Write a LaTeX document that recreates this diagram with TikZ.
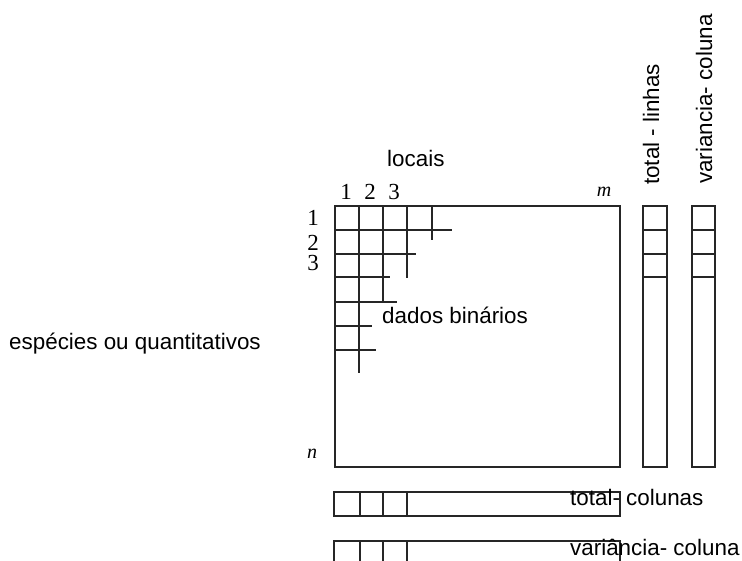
\documentclass[tikz,border=0pt]{standalone}
\usepackage{fontspec}
\setmainfont{Liberation Serif}
\newfontfamily\labfont{Liberation Sans}
\begin{document}
\begin{tikzpicture}[x=1pt,y=-1pt,
  grid/.style={line width=1.5pt,draw=black!85},
  lab/.style={font=\labfont\fontsize{22.4}{26}\selectfont,inner sep=0pt,anchor=base west},
  idx/.style={font=\fontsize{23}{26}\selectfont,inner sep=0pt,anchor=base,text height=14pt,text depth=0pt},
  idxit/.style={font=\itshape\fontsize{20}{23}\selectfont,inner sep=0pt,anchor=base}]
\useasboundingbox (0,0) rectangle (742,561);
% main matrix
\draw[grid] (335,206) rectangle (620,467);
% staircase
\draw[grid] (359,206) -- (359,373);
\draw[grid] (383,206) -- (383,302);
\draw[grid] (407,206) -- (407,278);
\draw[grid] (432,206) -- (432,240);
\draw[grid] (335,230) -- (452,230);
\draw[grid] (335,254) -- (416,254);
\draw[grid] (335,277) -- (390,277);
\draw[grid] (335,302) -- (397,302);
\draw[grid] (335,326) -- (372,326);
\draw[grid] (335,350) -- (376,350);
% right columns
\draw[grid] (643,206) rectangle (667,467);
\draw[grid] (643,230) -- (667,230) (643,254) -- (667,254) (643,277) -- (667,277);
\draw[grid] (692,206) rectangle (715,467);
\draw[grid] (692,230) -- (715,230) (692,254) -- (715,254) (692,277) -- (715,277);
% bottom bars
\draw[grid] (334,492) rectangle (620,516);
\draw[grid] (360,492) -- (360,516) (383,492) -- (383,516) (407,492) -- (407,516);
\draw[grid] (334,561) -- (334,541) -- (620,541) -- (620,561);
\draw[grid] (360,541) -- (360,561) (383,541) -- (383,561) (407,541) -- (407,561);
% indices
\node[idx] (c1) at (346,200) {1};
\node[idx] (c2) at (370,200) {2};
\node[idx] (c3) at (394,200) {3};
\node[idxit] (cm) at (604,197) {m};
\node[idx] (r1) at (313,226) {1};
\node[idx] (r2) at (313,251) {2};
\node[idx] (r3) at (313,271) {3};
\node[idxit] (rn) at (312,458) {n};
% labels
\node[lab] (locais) at (387,167) {locais};
\node[lab] (dados) at (382,324) {dados binários};
\node[lab] (especies) at (9,350) {espécies ou quantitativos};
\node[lab,rotate=90] (totl) at (659,185) {total - linhas};
\node[lab,rotate=90] (varl) at (712,184) {variancia- coluna};
\node[lab] (totc) at (570,505) {total- colunas};
\node[lab] (varc) at (570,555) {variância- coluna};
\end{tikzpicture}
\end{document}
